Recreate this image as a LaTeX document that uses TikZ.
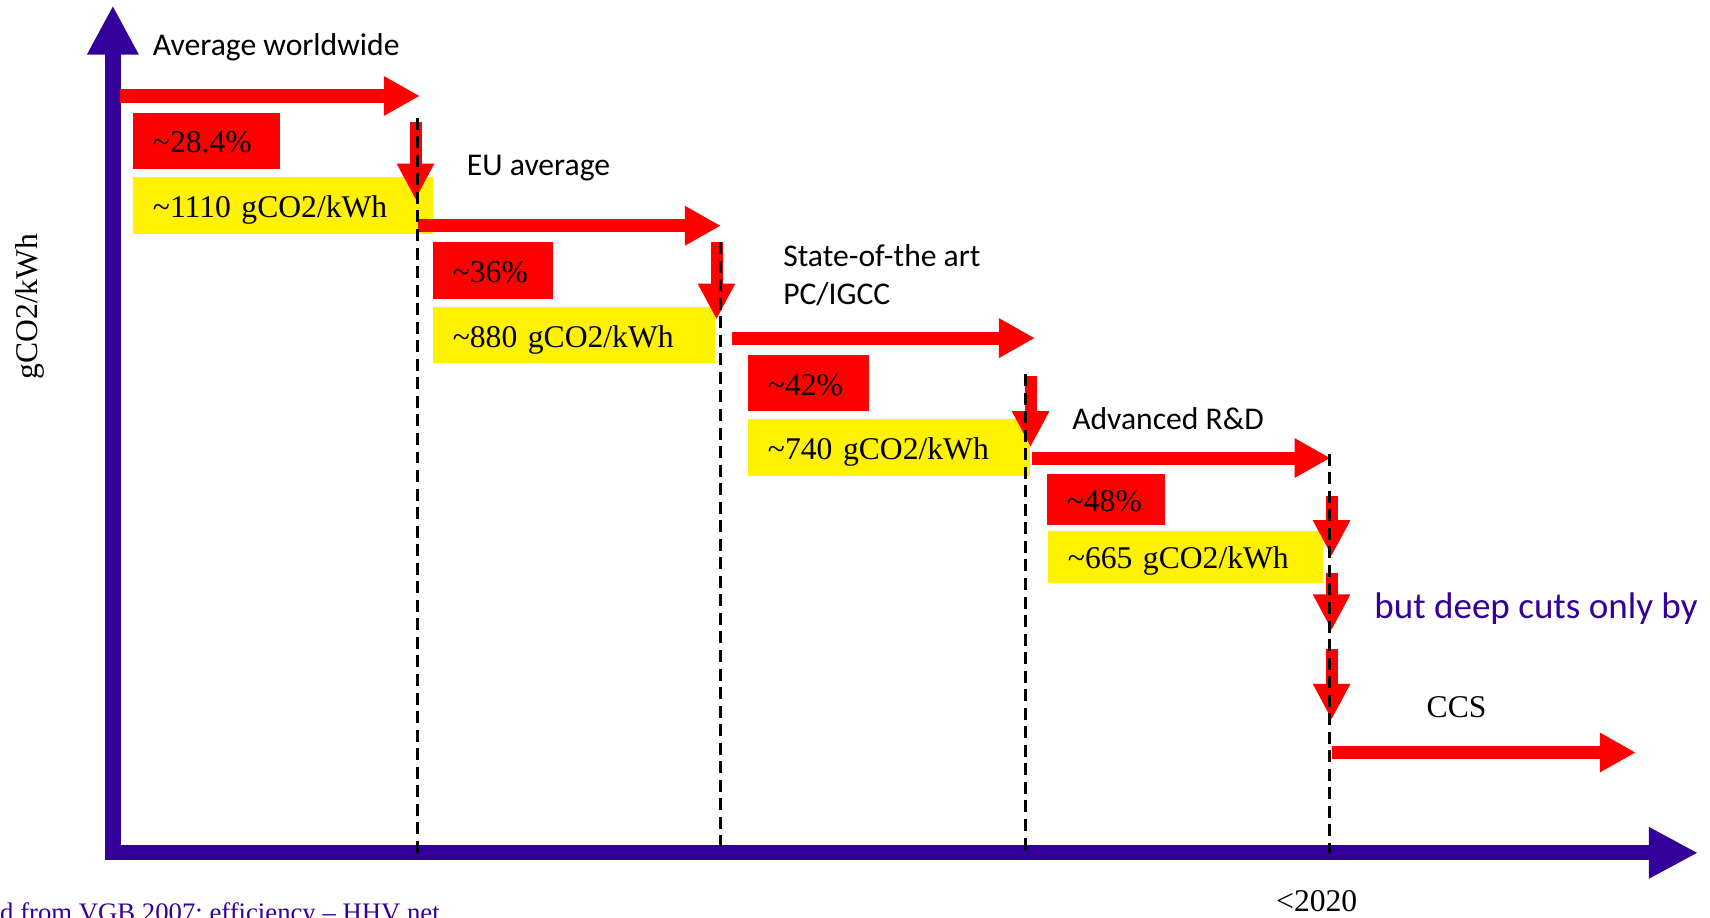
\documentclass[tikz,border=0pt]{standalone}
\usepackage{fontspec}
\setmainfont{Liberation Serif}
\newfontfamily\calsans{Carlito}
\usetikzlibrary{arrows.meta}
\definecolor{indigo}{RGB}{51,0,153}
\begin{document}
\begin{tikzpicture}[x=1pt,y=-1pt,
  redarr/.style={draw=red,line width=12pt,-{Triangle[length=33pt,width=34pt]}},
  downarr/.style={draw=red,line width=11pt,-{Triangle[length=33pt,width=32pt]}},
  axisarr/.style={draw=indigo,line width=14pt,-{Triangle[length=45pt,width=44pt]}},
  guide/.style={draw=black,line width=2.6pt,dash pattern=on 11pt off 6pt},
  valbox/.style={anchor=north west,inner xsep=18pt,inner ysep=0pt,align=left,text height=24pt,text depth=2pt,font=\fontsize{29}{34}\selectfont},
  slabel/.style={anchor=base west,inner sep=0pt,font=\calsans\fontsize{29}{35}\selectfont},
  tlabel/.style={anchor=base west,inner sep=0pt,font=\fontsize{29}{34}\selectfont}
]
\clip (0,0) rectangle (1568,841);
% axes
\coordinate (yb) at (103.5,789); \coordinate (yt) at (103.5,5);
\coordinate (xl) at (97,782); \coordinate (xr) at (1557,782);
\draw[axisarr] (yb) -- (yt);
\draw[axisarr] (xl) -- (xr);
% value boxes
\node[valbox,fill=red,text width=99pt,minimum height=52pt] (r1) at (122,103) {\textasciitilde28.4\%};
\node[valbox,fill=yellow,text width=239pt,minimum height=52pt] (y1) at (122,162) {\textasciitilde1110 gCO2/kWh};
\node[valbox,fill=red,text width=74pt,minimum height=52pt] (r2) at (397,222) {\textasciitilde36\%};
\node[valbox,fill=yellow,text width=222pt,minimum height=52pt] (y2) at (397,281) {\textasciitilde880 gCO2/kWh};
\node[valbox,fill=red,text width=75pt,minimum height=52pt] (r3) at (686,325) {\textasciitilde42\%};
\node[valbox,fill=yellow,text width=222pt,minimum height=52pt] (y3) at (686,384) {\textasciitilde740 gCO2/kWh};
\node[valbox,fill=red,text width=72pt,minimum height=47pt] (r4) at (960,434) {\textasciitilde48\%};
\node[valbox,fill=yellow,text width=216pt,minimum height=47pt] (y4) at (961,487) {\textasciitilde665 gCO2/kWh};
% arrow end points
\coordinate (h1s) at (110,88);   \coordinate (h1e) at (385,88);
\coordinate (h2s) at (383,207);  \coordinate (h2e) at (661,207);
\coordinate (h3s) at (671,310);  \coordinate (h3e) at (949,310);
\coordinate (h4s) at (946,420);  \coordinate (h4e) at (1220,420);
\coordinate (h5s) at (1221,690); \coordinate (h5e) at (1500,690);
\coordinate (v1s) at (381,112);  \coordinate (v1e) at (381,183);
\coordinate (v2s) at (657,222);  \coordinate (v2e) at (657,293);
\coordinate (v3s) at (945,345);  \coordinate (v3e) at (945,410);
\coordinate (v4s) at (1221,455); \coordinate (v4e) at (1221,510);
\coordinate (v5s) at (1221,525); \coordinate (v5e) at (1221,578);
\coordinate (v6s) at (1221,595); \coordinate (v6e) at (1221,660);
\draw[redarr] (h1s) -- (h1e);
\draw[redarr] (h2s) -- (h2e);
\draw[redarr] (h3s) -- (h3e);
\draw[redarr] (h4s) -- (h4e);
\draw[redarr] (h5s) -- (h5e);
\draw[downarr] (v1s) -- (v1e);
\draw[downarr] (v2s) -- (v2e);
\draw[downarr] (v3s) -- (v3e);
\draw[downarr] (v4s) -- (v4e);
\draw[downarr] (v5s) -- (v5e);
\draw[downarr] (v6s) -- (v6e);
% dashed guides
\coordinate (d1t) at (383,108);  \coordinate (d1b) at (383,782);
\coordinate (d2t) at (661,222);  \coordinate (d2b) at (661,782);
\coordinate (d3t) at (940,343);  \coordinate (d3b) at (940,782);
\coordinate (d4t) at (1219,416); \coordinate (d4b) at (1219,782);
\draw[guide] (d1t) -- (d1b);
\draw[guide] (d2t) -- (d2b);
\draw[guide] (d3t) -- (d3b);
\draw[guide] (d4t) -- (d4b);
% labels
\node[slabel] (l1) at (140,51) {Average worldwide};
\node[slabel] (l2) at (428,161) {EU average};
\node[slabel] (l3a) at (718,244) {State-of-the art};
\node[slabel] (l3b) at (718,279) {PC/IGCC};
\node[slabel] (l4) at (983,394) {Advanced R\&D};
\node[anchor=base west,inner sep=0pt,text=indigo,font=\calsans\fontsize{34}{40}\selectfont] (deep) at (1260,567) {but deep cuts only by};
\node[tlabel] (ccs) at (1308,658) {CCS};
\node[tlabel] (yr) at (1170,836) {<2020};
\node[rotate=90,inner sep=0pt,font=\fontsize{29}{34}\selectfont] (ylab) at (27,281) {gCO2/kWh};
\node[anchor=base west,inner sep=0pt,text=indigo,font=\fontsize{24.5}{28}\selectfont] (src) at (0,845) {d from VGB 2007; efficiency – HHV net};
\end{tikzpicture}
\end{document}
